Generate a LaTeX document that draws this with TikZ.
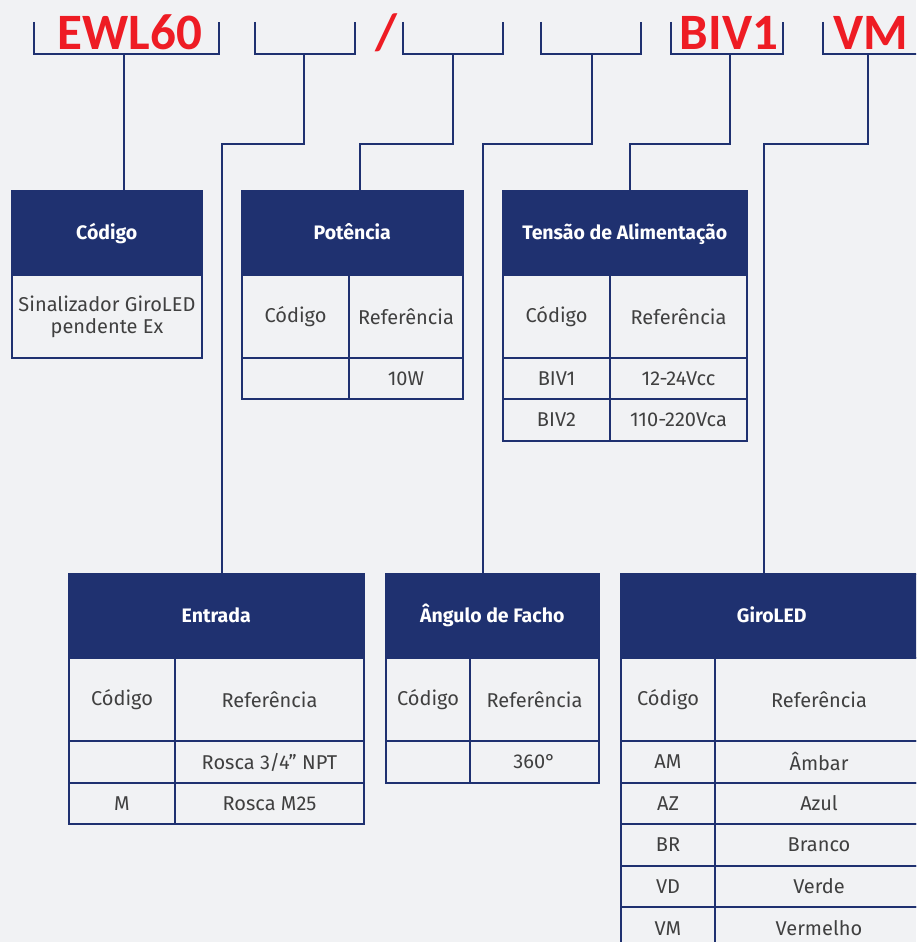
\documentclass[tikz,border=0pt]{standalone}
\usepackage{fontspec}
\setmainfont{Fira Sans}
\newfontfamily\codefont{Carlito}
\usetikzlibrary{positioning, calc}
\definecolor{navy}{HTML}{1F3170}
\definecolor{bggray}{HTML}{F1F2F4}
\definecolor{codered}{HTML}{EE1C24}
\definecolor{txtgray}{HTML}{404040}

\tikzset{
  brk/.style={draw=navy, line width=2.5pt},
  link/.style={draw=navy, line width=2.5pt},
  hdr/.style={fill=navy, draw=navy, line width=1.5pt, text=white,
    font=\bfseries\fontsize{19.5}{22}\selectfont, anchor=north west, inner sep=0pt,
    text height=1.3em, text depth=0pt},
  cell/.style={draw=navy, line width=2pt, text=txtgray,
    font=\fontsize{20}{22}\selectfont, anchor=north west, inner sep=0pt, align=center},
  code/.style={text=codered, font=\codefont\bfseries\fontsize{51}{51}\selectfont,
    anchor=base, inner sep=0pt}
}

\begin{document}
\begin{tikzpicture}[x=1pt, y=-1pt]
    \fill[bggray] (0, 0) rectangle (916, 942);
    \useasboundingbox (0, 0) rectangle (916, 942);
    \clip (0, 0) rectangle (916, 942);

    % brackets of the code
    \foreach \l/\r/\s [count=\i] in {34/219/124, 255/355/304, 403/503/453,
                                    541/641/592, 671/783/730, 823/930/868} {
        \draw[brk] (\l, 22) |- (\r, 54) -- (\r, 22);
        \coordinate (b\i) at (\s, 54);
    }
    \node[code] (c1) at (130, 50) {EWL60};
    \node[code] (sl) at (386, 50) {/};
    \node[code] (c5) at (729, 50) {BIV1};
    \node[code] (c6) at (871, 50) {VM};

    % Código
    \node[hdr, minimum width=190, minimum height=84] (cod) at (11, 190) {Código};
    \node[cell, minimum width=190, minimum height=83] (cod1) at (11, 274)
        {Sinalizador GiroLED\\pendente Ex};

    % Potência
    \node[hdr, minimum width=221, minimum height=84] (pot) at (241, 190) {Potência};
    \node[cell, minimum width=107, minimum height=83] (pot11) at (241, 274) {Código};
    \node[cell, minimum width=114, minimum height=83] (pot12) at (348, 274) {Referência};
    \node[cell, minimum width=107, minimum height=41] (pot21) at (241, 357) {};
    \node[cell, minimum width=114, minimum height=41] (pot22) at (348, 357) {10W};

    % Tensão de Alimentação
    \node[hdr, minimum width=244, minimum height=84] (ten) at (502, 190) {Tensão de Alimentação};
    \node[cell, minimum width=107, minimum height=83] (ten11) at (502, 274) {Código};
    \node[cell, minimum width=137, minimum height=83] (ten12) at (609, 274) {Referência};
    \node[cell, minimum width=107, minimum height=41] (ten21) at (502, 357) {BIV1};
    \node[cell, minimum width=137, minimum height=41] (ten22) at (609, 357) {12-24Vcc};
    \node[cell, minimum width=107, minimum height=42] (ten31) at (502, 398) {BIV2};
    \node[cell, minimum width=137, minimum height=42] (ten32) at (609, 398) {110-220Vca};

    % Entrada
    \node[hdr, minimum width=295, minimum height=84] (ent) at (68, 573) {Entrada};
    \node[cell, minimum width=106, minimum height=83] (ent11) at (68, 657) {Código};
    \node[cell, minimum width=189, minimum height=83] (ent12) at (174, 657) {Referência};
    \node[cell, minimum width=106, minimum height=42] (ent21) at (68, 740) {};
    \node[cell, minimum width=189, minimum height=42] (ent22) at (174, 740) {Rosca 3/4” NPT};
    \node[cell, minimum width=106, minimum height=41] (ent31) at (68, 782) {M};
    \node[cell, minimum width=189, minimum height=41] (ent32) at (174, 782) {Rosca M25};

    % Ângulo de Facho
    \node[hdr, minimum width=213, minimum height=84] (ang) at (385, 573) {Ângulo de Facho};
    \node[cell, minimum width=84, minimum height=83] (ang11) at (385, 657) {Código};
    \node[cell, minimum width=129, minimum height=83] (ang12) at (469, 657) {Referência};
    \node[cell, minimum width=84, minimum height=42] (ang21) at (385, 740) {};
    \node[cell, minimum width=129, minimum height=42] (ang22) at (469, 740) {360°};

    % GiroLED
    \node[hdr, minimum width=302, minimum height=84] (gir) at (620, 573) {GiroLED};
    \node[cell, minimum width=94, minimum height=83] (gir11) at (620, 657) {Código};
    \node[cell, minimum width=208, minimum height=83] (gir12) at (714, 657) {Referência};
    \foreach \c/\r [count=\i] in {AM/Âmbar, AZ/Azul, BR/Branco, VD/Verde, VM/Vermelho} {
        \node[cell, minimum width=94, minimum height=41.6] (girc\i) at (620, 740+41.6*\i-41.6) {\c};
        \node[cell, minimum width=208, minimum height=41.6] (girr\i) at (714, 740+41.6*\i-41.6) {\r};
    }

    % links
    \coordinate (k2) at (222, 144);
    \coordinate (k3) at (360, 144);
    \coordinate (k4) at (483, 144);
    \coordinate (k5) at (630, 144);
    \coordinate (k6) at (764, 144);
    \draw[link] (b1) -- (b1 |- cod.north);
    \draw[link] (b2) |- (k2) -- (k2 |- ent.north);
    \draw[link] (b3) |- (k3) -- (k3 |- pot.north);
    \draw[link] (b4) |- (k4) -- (k4 |- ang.north);
    \draw[link] (b5) |- (k5) -- (k5 |- ten.north);
    \draw[link] (b6) |- (k6) -- (k6 |- gir.north);
\end{tikzpicture}
\end{document}
